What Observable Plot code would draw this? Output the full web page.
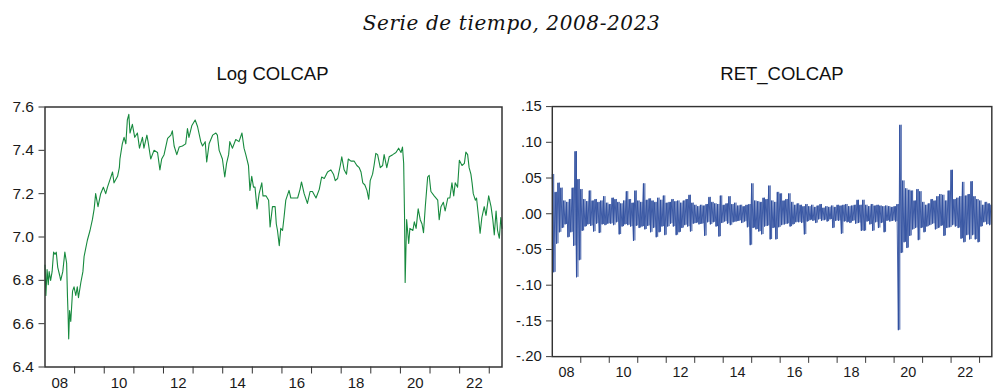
<!DOCTYPE html>
<html><head><meta charset="utf-8">
<script src="https://cdn.jsdelivr.net/npm/d3@7"></script>
<script src="https://cdn.jsdelivr.net/npm/@observablehq/plot@0.6"></script>
<style>
html,body{margin:0;padding:0;background:#fff;width:1000px;height:391px;overflow:hidden;}
#wrap{position:relative;width:1000px;height:391px;overflow:hidden;}
.t{position:absolute;white-space:nowrap;text-align:center;color:#111;}
#title{left:0;width:1023px;top:13px;font:italic 20px "DejaVu Serif";letter-spacing:0.6px;line-height:20px;}
#tl{left:0;width:545px;top:65px;font:18.5px "Liberation Sans",Arial;line-height:18.5px;}
#tr{left:482px;width:600px;top:65px;font:18.5px "Liberation Sans",Arial;line-height:18.5px;}
#pl{position:absolute;left:0;top:96px;}
#pr{position:absolute;left:509px;top:96px;}
</style></head>
<body><div id="wrap">
<div class="t" id="title">Serie de tiempo, 2008-2023</div>
<div class="t" id="tl">Log COLCAP</div>
<div class="t" id="tr">RET_COLCAP</div>
<div id="pl"></div><div id="pr"></div>
</div>
<script>
// ---- data ----
const xDomain = [2008, 2023.43];
const yearTicks = [2009,2010,2011,2012,2013,2014,2015,2016,2017,2018,2019,2020,2021,2022,2023];
const labelYears = [2008,2010,2012,2014,2016,2018,2020,2022];
const labelText = ["08","10","12","14","16","18","20","22"];
const leftYTicks = [6.4,6.6,6.8,7.0,7.2,7.4,7.6];
const rightYTicks = [-0.20,-0.15,-0.10,-0.05,0.00,0.05,0.10,0.15];

const logT = [
2008.00,2008.03,2008.07,2008.11,2008.14,2008.19,2008.24,2008.29,2008.34,2008.38,2008.43,2008.50,2008.53,2008.60,2008.67,2008.73,2008.76,2008.78,2008.80,2008.83,2008.87,2008.93,2008.98,
2009.04,2009.09,2009.13,2009.21,2009.28,2009.32,2009.43,2009.52,2009.60,2009.66,2009.71,2009.79,2009.88,2009.97,
2010.05,2010.11,2010.22,2010.28,2010.33,2010.45,2010.51,2010.53,2010.61,2010.67,2010.73,2010.78,2010.83,2010.87,2010.95,
2011.03,2011.12,2011.19,2011.29,2011.34,2011.44,2011.48,2011.57,2011.68,2011.80,2011.88,2011.94,
2012.02,2012.14,2012.25,2012.30,2012.36,2012.45,2012.53,2012.64,2012.75,2012.81,2012.86,2012.96,
2013.07,2013.15,2013.26,2013.32,2013.41,2013.46,2013.54,2013.66,2013.77,2013.82,2013.88,2013.99,
2014.07,2014.13,2014.20,2014.24,2014.33,2014.44,2014.55,2014.65,2014.72,2014.78,2014.87,2014.92,2014.98,
2015.04,2015.09,2015.16,2015.23,2015.32,2015.36,2015.46,2015.55,2015.60,2015.68,2015.77,2015.81,2015.85,2015.91,2015.96,
2016.02,2016.07,2016.13,2016.24,2016.30,2016.41,2016.53,2016.61,2016.66,2016.75,2016.86,2016.95,
2017.03,2017.15,2017.26,2017.34,2017.43,2017.54,2017.65,2017.74,2017.80,2017.88,2017.97,
2018.02,2018.10,2018.18,2018.24,2018.33,2018.44,2018.53,2018.61,2018.67,2018.73,2018.80,2018.87,2018.93,2018.98,
2019.06,2019.11,2019.17,2019.23,2019.32,2019.40,2019.45,2019.54,2019.62,2019.74,2019.85,2019.94,
2020.02,2020.07,2020.11,2020.14,2020.16,2020.21,2020.28,2020.32,2020.42,2020.47,2020.53,2020.60,2020.67,2020.73,2020.78,2020.84,2020.92,2020.97,
2021.03,2021.14,2021.26,2021.31,2021.37,2021.45,2021.51,2021.60,2021.67,2021.74,2021.80,2021.85,2021.93,2021.99,
2022.08,2022.16,2022.21,2022.27,2022.32,2022.38,2022.42,2022.46,2022.53,2022.57,2022.64,2022.69,2022.75,2022.83,2022.89,2022.98,
2023.06,2023.12,2023.17,2023.23,2023.28,2023.34,2023.39,2023.43];

const logV = [
6.87,6.73,6.85,6.78,6.84,6.80,6.84,6.93,6.92,6.93,6.86,6.82,6.80,6.84,6.93,6.88,6.72,6.64,6.53,6.66,6.61,6.75,6.77,
6.73,6.77,6.72,6.79,6.84,6.91,6.985,7.03,7.08,7.13,7.20,7.14,7.20,7.23,
7.20,7.23,7.275,7.30,7.25,7.28,7.32,7.36,7.43,7.46,7.43,7.54,7.566,7.48,7.52,
7.46,7.48,7.41,7.46,7.41,7.47,7.44,7.36,7.40,7.39,7.31,7.36,
7.38,7.455,7.47,7.49,7.42,7.38,7.415,7.42,7.43,7.50,7.46,7.515,
7.54,7.51,7.44,7.42,7.44,7.346,7.43,7.47,7.48,7.47,7.40,7.36,
7.277,7.34,7.38,7.44,7.41,7.45,7.44,7.48,7.41,7.38,7.33,7.215,7.28,
7.23,7.23,7.13,7.20,7.25,7.19,7.19,7.17,7.046,7.14,7.14,7.06,7.03,6.96,7.04,
7.03,7.09,7.17,7.215,7.18,7.18,7.18,7.22,7.254,7.20,7.155,7.21,
7.21,7.18,7.22,7.277,7.27,7.30,7.31,7.29,7.26,7.27,7.33,
7.37,7.31,7.29,7.36,7.35,7.35,7.33,7.32,7.30,7.25,7.24,7.215,7.174,7.26,
7.29,7.33,7.386,7.38,7.32,7.33,7.38,7.32,7.37,7.38,7.39,7.41,
7.39,7.415,7.34,7.09,6.79,7.08,6.97,7.04,7.03,7.07,7.04,7.13,7.08,7.06,7.02,7.14,7.277,7.285,
7.21,7.19,7.17,7.08,7.14,7.16,7.12,7.18,7.18,7.25,7.19,7.25,7.23,7.354,
7.33,7.34,7.392,7.38,7.32,7.29,7.25,7.20,7.17,7.18,7.09,7.017,7.09,7.14,7.10,7.19,
7.14,7.08,7.01,7.12,7.03,6.994,7.09,7.04];

// returns: 20 readings per year starting 2008.0
const retStart = 2008, retPerYear = 20;
const retV = [
// 2008
0.055,-0.082,0.030,-0.042,0.043,-0.026,0.036,-0.020,0.018,-0.015,0.016,-0.033,0.020,-0.026,0.036,-0.045,0.087,-0.089,0.048,-0.065,
// 2009
0.034,-0.024,0.020,-0.018,0.017,-0.015,0.032,-0.017,0.018,-0.025,0.020,-0.014,0.016,-0.027,0.018,-0.015,0.024,-0.016,0.015,-0.014,
// 2010
0.013,-0.014,0.022,-0.016,0.020,-0.012,0.016,-0.029,0.014,-0.018,0.018,-0.015,0.031,-0.016,0.020,-0.018,0.015,-0.038,0.032,-0.017,
// 2011
0.018,-0.020,0.016,-0.018,0.042,-0.022,0.019,-0.017,0.021,-0.026,0.018,-0.020,0.016,-0.033,0.022,-0.026,0.019,-0.018,0.025,-0.030,
// 2012
0.015,-0.018,0.016,-0.014,0.020,-0.018,0.017,-0.030,0.018,-0.026,0.015,-0.020,0.018,-0.016,0.020,-0.018,0.026,-0.025,0.015,-0.014,
// 2013
0.012,-0.013,0.010,-0.015,0.012,-0.014,0.011,-0.031,0.013,-0.012,0.023,-0.015,0.016,-0.012,0.014,-0.018,0.013,-0.032,0.025,-0.013,
// 2014
0.012,-0.011,0.014,-0.014,0.024,-0.016,0.013,-0.012,0.015,-0.011,0.011,-0.010,0.012,-0.013,0.010,-0.011,0.012,-0.019,0.013,-0.044,
// 2015
0.042,-0.020,0.018,-0.022,0.017,-0.025,0.016,-0.029,0.022,-0.018,0.020,-0.017,0.039,-0.036,0.018,-0.020,0.016,-0.036,0.030,-0.019,
// 2016
0.028,-0.016,0.018,-0.015,0.020,-0.014,0.028,-0.018,0.016,-0.015,0.012,-0.012,0.014,-0.012,0.012,-0.013,0.010,-0.029,0.013,-0.011,
// 2017
0.010,-0.009,0.012,-0.010,0.009,-0.013,0.011,-0.008,0.013,-0.010,0.008,-0.009,0.010,-0.011,0.009,-0.008,0.011,-0.020,0.009,-0.010,
// 2018
0.012,-0.010,0.011,-0.028,0.012,-0.011,0.013,-0.012,0.010,-0.013,0.011,-0.010,0.012,-0.014,0.019,-0.013,0.012,-0.024,0.019,-0.024,
// 2019
0.012,-0.011,0.010,-0.015,0.013,-0.024,0.011,-0.012,0.012,-0.020,0.011,-0.013,0.010,-0.026,0.011,-0.010,0.010,-0.011,0.009,-0.010,
// 2020
0.010,-0.011,0.013,-0.163,0.124,-0.055,0.046,-0.040,0.035,-0.048,0.033,-0.031,0.032,-0.022,0.018,-0.020,0.034,-0.037,0.031,-0.020,
// 2021
0.016,-0.026,0.012,-0.018,0.014,-0.016,0.020,-0.014,0.018,-0.022,0.024,-0.020,0.027,-0.017,0.026,-0.031,0.018,-0.020,0.032,-0.019,
// 2022
0.061,-0.016,0.020,-0.018,0.022,-0.020,0.024,-0.035,0.044,-0.040,0.025,-0.030,0.027,-0.036,0.045,-0.030,0.024,-0.036,0.020,-0.040,
// 2023
0.018,-0.018,0.012,-0.012,0.016,-0.015,0.014,-0.016,0.012];

// ---- build tables ----
const n = Math.min(logT.length, logV.length);
const logData = logT.slice(0, n).map((t, i) => ({t, v: logV[i]}));
const retData = retV.map((v, i) => ({t: retStart + i / retPerYear, v, prev: i > 0 ? retV[i - 1] : v}));
const labelPos = labelYears.map(y => y + 0.5);
const labelMap = new Map(labelPos.map((p, i) => [p, labelText[i]]));

const fmtRet = d => (d < -1e-9 ? "-" : "") + Math.abs(d).toFixed(2).slice(1);
const common = {
  height: 295, marginTop: 10.5, marginBottom: 24.5, marginLeft: 44.5, marginRight: 9,
  style: {fontFamily: '"Liberation Sans", Arial, sans-serif', fontSize: "15px", color: "#1a1a1a", background: "transparent", overflow: "visible"}
};
function xAxes() {
  return [
    Plot.axisX({ticks: yearTicks, tickSize: 7, tickFormat: () => "", stroke: "#333", label: null}),
    Plot.axisX({ticks: labelPos, tickSize: 0, tickPadding: 10, tickFormat: d => labelMap.get(d) ?? "", fontSize: 15, label: null})
  ];
}

const left = Plot.plot({
  ...common, width: 510.5,
  x: {domain: xDomain, label: null},
  y: {domain: [6.4, 7.6], label: null},
  marks: [
    Plot.axisY({ticks: leftYTicks, tickSize: 6, tickPadding: 5, tickFormat: d => d.toFixed(1), fontSize: 15.5, stroke: "#333", label: null}),
    ...xAxes(),
    Plot.line(logData, {x: "t", y: "v", stroke: "#178a3e", strokeWidth: 1.1}),
    Plot.frame({stroke: "#333", strokeWidth: 1.5})
  ]
});
document.getElementById("pl").appendChild(left);

const right = Plot.plot({
  ...common, width: 510.5,
  x: {domain: xDomain, label: null},
  y: {domain: [-0.20, 0.15], label: null},
  marks: [
    Plot.axisY({ticks: rightYTicks, tickSize: 6, tickPadding: 5, tickFormat: fmtRet, fontSize: 15.5, stroke: "#333", label: null}),
    ...xAxes(),
    Plot.ruleX(retData, {x: "t", y1: "prev", y2: "v", stroke: "#2f4f9f", strokeWidth: 1}),
    Plot.line(retData, {x: "t", y: "v", stroke: "#2f4f9f", strokeWidth: 0.9}),
    Plot.frame({stroke: "#333", strokeWidth: 1.5})
  ]
});
document.getElementById("pr").appendChild(right);
</script>
</body></html>
